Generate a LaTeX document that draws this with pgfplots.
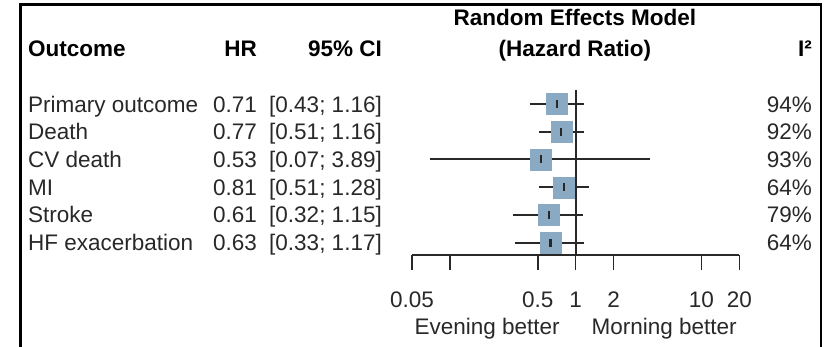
\documentclass[border=0pt]{standalone}
\usepackage{pgfplots}
\usepackage{pgfplotstable}
\pgfplotsset{compat=1.18}
\usepackage{fontspec}
\setmainfont{Liberation Sans}

\definecolor{boxblue}{RGB}{138,170,196}
\definecolor{ink}{RGB}{40,40,40}
\newcommand{\fs}{\fontsize{22.5pt}{27pt}\selectfont}

% row, hazard ratio, lower and upper 95% limits
\pgfplotstableread{
row hr   lo   hi
1   0.71 0.43 1.16
2   0.77 0.51 1.16
3   0.53 0.07 3.89
4   0.81 0.51 1.28
5   0.61 0.32 1.15
6   0.63 0.33 1.17
}\foresttab

\begin{document}
\begin{tikzpicture}
\useasboundingbox (0pt,0pt) rectangle (825pt,347pt);
% outer frame
\draw[line width=2.2pt] (20.5pt,-3pt) -- (20.5pt,342.5pt) -- (821pt,342.5pt) -- (821pt,-3pt);

\begin{axis}[
  at={(412pt,92pt)}, anchor=south west,
  scale only axis, width=327.3pt, height=165pt,
  xmode=log, xmin=0.05, xmax=20,
  ymin=0.494, ymax=6.444, y dir=reverse,
  axis x line=bottom, axis y line=none,
  axis line style={-, line width=1.6pt, ink},
  xtick={0.05,0.1,0.5,1,2,10,20},
  xticklabels={0.05,,0.5,1,2,10,20},
  minor xtick={},
  xtick align=outside, major tick length=15pt,
  tick style={line width=1.6pt, ink},
  xticklabel style={font=\fs, text=ink, anchor=base, yshift=-38pt},
  /pgf/number format/assume math mode=true,
  clip=false,
]
% line of no effect
\addplot[ink, line width=1.8pt] coordinates {(1,0.494) (1,6.444)};
% pooled estimates
\addplot[only marks, mark=square*, mark size=10.5pt,
  mark options={fill=boxblue, draw=boxblue}] table[x=hr, y=row] {\foresttab};
% confidence intervals
\addplot[ink, line width=2pt] coordinates {(0.43,1) (1.16,1)};
\addplot[ink, line width=2pt] coordinates {(0.51,2) (1.16,2)};
\addplot[ink, line width=2pt] coordinates {(0.07,3) (3.89,3)};
\addplot[ink, line width=2pt] coordinates {(0.51,4) (1.28,4)};
\addplot[ink, line width=2pt] coordinates {(0.32,5) (1.15,5)};
\addplot[ink, line width=2pt] coordinates {(0.33,6) (1.17,6)};
% point estimate ticks
\addplot[only marks, mark=|, mark size=4pt,
  mark options={line width=2.2pt, ink}] table[x=hr, y=row] {\foresttab};

\node[font=\fs, text=ink, anchor=base east] at (axis cs:1,6.444) [yshift=-80pt, xshift=-12.5pt] {Evening better};
\node[font=\fs, text=ink, anchor=base west] at (axis cs:1,6.444) [yshift=-80pt, xshift=12.5pt] {Morning better};
\end{axis}

% column headers
\begin{scope}[every node/.style={font=\fs\bfseries, inner sep=0pt}]
\node[anchor=base west] at (28pt,290pt) {Outcome};
\node[anchor=base east] at (257pt,290pt) {HR};
\node[anchor=base east] at (382pt,290pt) {95\% CI};
\node[anchor=base] at (575pt,321pt) {Random Effects Model};
\node[anchor=base] at (575pt,290pt) {(Hazard Ratio)};
\node[anchor=base east] at (812pt,290pt) {I²};
\end{scope}

% table rows
\begin{scope}[every node/.style={font=\fs, text=ink, inner sep=0pt}]
\foreach \lab/\hr/\ci/\het [count=\k] in {
  Primary outcome/0.71/{[0.43; 1.16]}/94\%,
  Death/0.77/{[0.51; 1.16]}/92\%,
  CV death/0.53/{[0.07; 3.89]}/93\%,
  MI/0.81/{[0.51; 1.28]}/64\%,
  Stroke/0.61/{[0.32; 1.15]}/79\%,
  HF exacerbation/0.63/{[0.33; 1.17]}/64\%}{
  \pgfmathsetmacro{\yb}{262.7-27.73*\k}
  \node[anchor=base west] at (28pt,\yb pt) {\lab};
  \node[anchor=base east] at (257pt,\yb pt) {\hr};
  \node[anchor=base east] at (382pt,\yb pt) {\ci};
  \node[anchor=base east] at (812pt,\yb pt) {\het};
}
\end{scope}
\end{tikzpicture}
\end{document}
